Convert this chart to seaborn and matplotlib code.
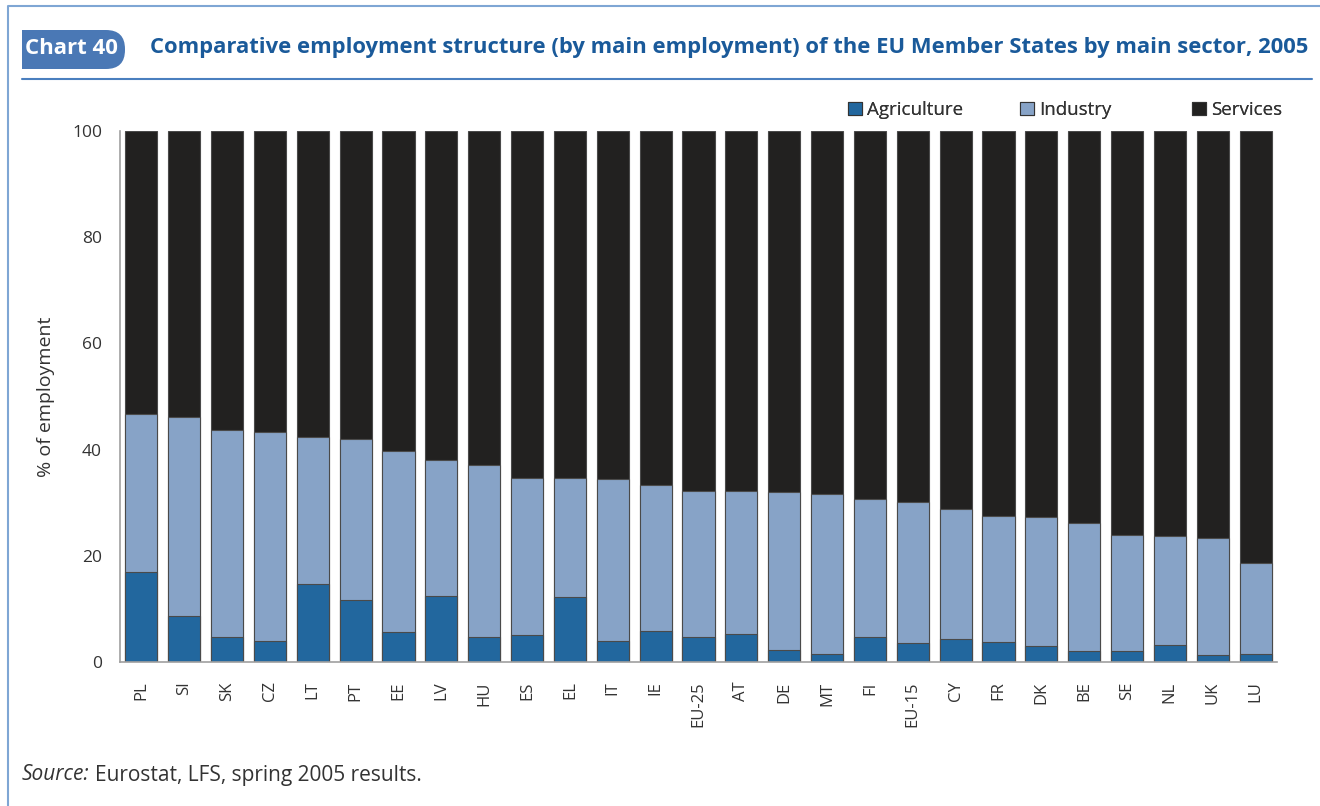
import numpy as np
import pandas as pd
import matplotlib.pyplot as plt
import seaborn as sns
from matplotlib.patches import FancyBboxPatch, Rectangle, Patch
from matplotlib.lines import Line2D
from matplotlib.ticker import FixedLocator
from matplotlib.transforms import IdentityTransform

# -------------------------------
# Data
# -------------------------------
countries = ["PL", "SI", "SK", "CZ", "LT", "PT", "EE", "LV", "HU", "ES", "EL", "IT", "IE",
             "EU-25", "AT", "DE", "MT", "FI", "EU-15", "CY", "FR", "DK", "BE", "SE", "NL", "UK", "LU"]
agriculture = [17.0, 8.7, 4.8, 4.0, 14.7, 11.7, 5.7, 12.5, 4.7, 5.1, 12.3, 4.0, 5.8,
               4.8, 5.2, 2.2, 1.6, 4.8, 3.6, 4.3, 3.8, 3.1, 2.0, 2.1, 3.2, 1.3, 1.6]
industry = [29.7, 37.4, 38.9, 39.3, 27.7, 30.3, 34.0, 25.5, 32.4, 29.6, 22.4, 30.5, 27.6,
            27.4, 27.0, 29.8, 30.0, 25.9, 26.5, 24.5, 23.7, 24.2, 24.2, 21.8, 20.5, 22.1, 17.1]
services = [100 - a - i for a, i in zip(agriculture, industry)]

sectors = ["Agriculture", "Industry", "Services"]
colors = {"Agriculture": "#22679e", "Industry": "#87a3c7", "Services": "#222120"}

df = pd.DataFrame({"Country": countries, "Agriculture": agriculture,
                   "Industry": industry, "Services": services})
df["Industry_top"] = df["Agriculture"] + df["Industry"]
df["Services_top"] = df["Industry_top"] + df["Services"]

sns.set_theme(style="white")
plt.rcParams["font.family"] = ["Open Sans", "DejaVu Sans"]

W, H = 1320, 806
fig = plt.figure(figsize=(W / 100, H / 100), dpi=100)
ax = fig.add_axes([120 / W, 1 - 662 / H, (1277 - 120) / W, (662 - 131) / H])

# stacked bars: draw cumulative tops, tallest first
bar_kw = dict(ax=ax, width=0.75, edgecolor="#4a4a4a", linewidth=0.8, saturation=1)
sns.barplot(data=df, x="Country", y="Services_top", color=colors["Services"], **bar_kw)
sns.barplot(data=df, x="Country", y="Industry_top", color=colors["Industry"], **bar_kw)
sns.barplot(data=df, x="Country", y="Agriculture", color=colors["Agriculture"], **bar_kw)

ax.set_xlim(-0.5, len(countries) - 0.5)
ax.set_ylim(0, 100)
ax.set_yticks([0, 20, 40, 60, 80, 100])
ax.set_xlabel("")
ax.set_ylabel("% of employment", fontsize=14, color="#333333", labelpad=12)

for s in ["top", "right"]:
    ax.spines[s].set_visible(False)
for s in ["left", "bottom"]:
    ax.spines[s].set_color("#a0a0a0")
    ax.spines[s].set_linewidth(1.2)

ax.tick_params(axis="y", direction="in", length=5, color="#a0a0a0", labelsize=12.5,
               labelcolor="#333333", pad=13)
ax.tick_params(axis="x", which="major", length=0, labelsize=12, labelcolor="#333333",
               labelrotation=90, pad=14)
ax.xaxis.set_minor_locator(FixedLocator(np.arange(0.5, len(countries), 1.0)))
ax.tick_params(axis="x", which="minor", direction="in", length=9, color="#aaaaaa", width=1)

# legend, one entry at a time so the spacing follows the original
legend_x = [848, 1020, 1192]
for s, lx in zip(sectors, legend_x):
    h = Patch(facecolor=colors[s], edgecolor="#333333", linewidth=0.8, label=s)
    leg = fig.legend(handles=[h], loc="center left", bbox_to_anchor=(lx / W, 1 - 110 / H),
                     frameon=False, fontsize=13.5, handlelength=0.75, handleheight=0.75,
                     handletextpad=0.25, borderpad=0, borderaxespad=0, labelcolor="#333333")
    fig.add_artist(leg)

# header block: tab with rounded right end
px = IdentityTransform()
fig.patches.append(FancyBboxPatch((22, H - 69), 103, 39, boxstyle="round,pad=0,rounding_size=19",
                                  transform=px, facecolor="#4a78b5", edgecolor="none"))
fig.patches.append(Rectangle((22, H - 69), 30, 39, transform=px, facecolor="#4a78b5",
                             edgecolor="none"))
fig.text(25 / W, 1 - 49 / H, "Chart 40", color="white", fontsize=16,
         fontweight="bold", va="center", ha="left")
fig.text(150 / W, 1 - 48 / H,
         "Comparative employment structure (by main employment) of the EU Member States by main sector, 2005",
         color="#1a5a9a", fontsize=15.8, fontweight="bold", va="center", ha="left")
fig.lines.append(Line2D([22 / W, 1312 / W], [1 - 79 / H, 1 - 79 / H],
                        transform=fig.transFigure, color="#4a7fbf", linewidth=1.5))

# outer frame
fig.lines.append(Line2D([8 / W, 8 / W, 1], [0, 1 - 6 / H, 1 - 6 / H],
                        transform=fig.transFigure, color="#7fa6d4", linewidth=1.5))

# source note
src = fig.text(22 / W, 1 - 775 / H, "Source:", fontsize=15, style="italic",
               color="#333333", va="center", ha="left")
fig.canvas.draw()
x_end = src.get_window_extent().x1
fig.text((x_end + 5) / W, 1 - 775 / H, "Eurostat, LFS, spring 2005 results.", fontsize=15,
         color="#333333", va="center", ha="left")

fig.savefig("out.png", dpi=100)
